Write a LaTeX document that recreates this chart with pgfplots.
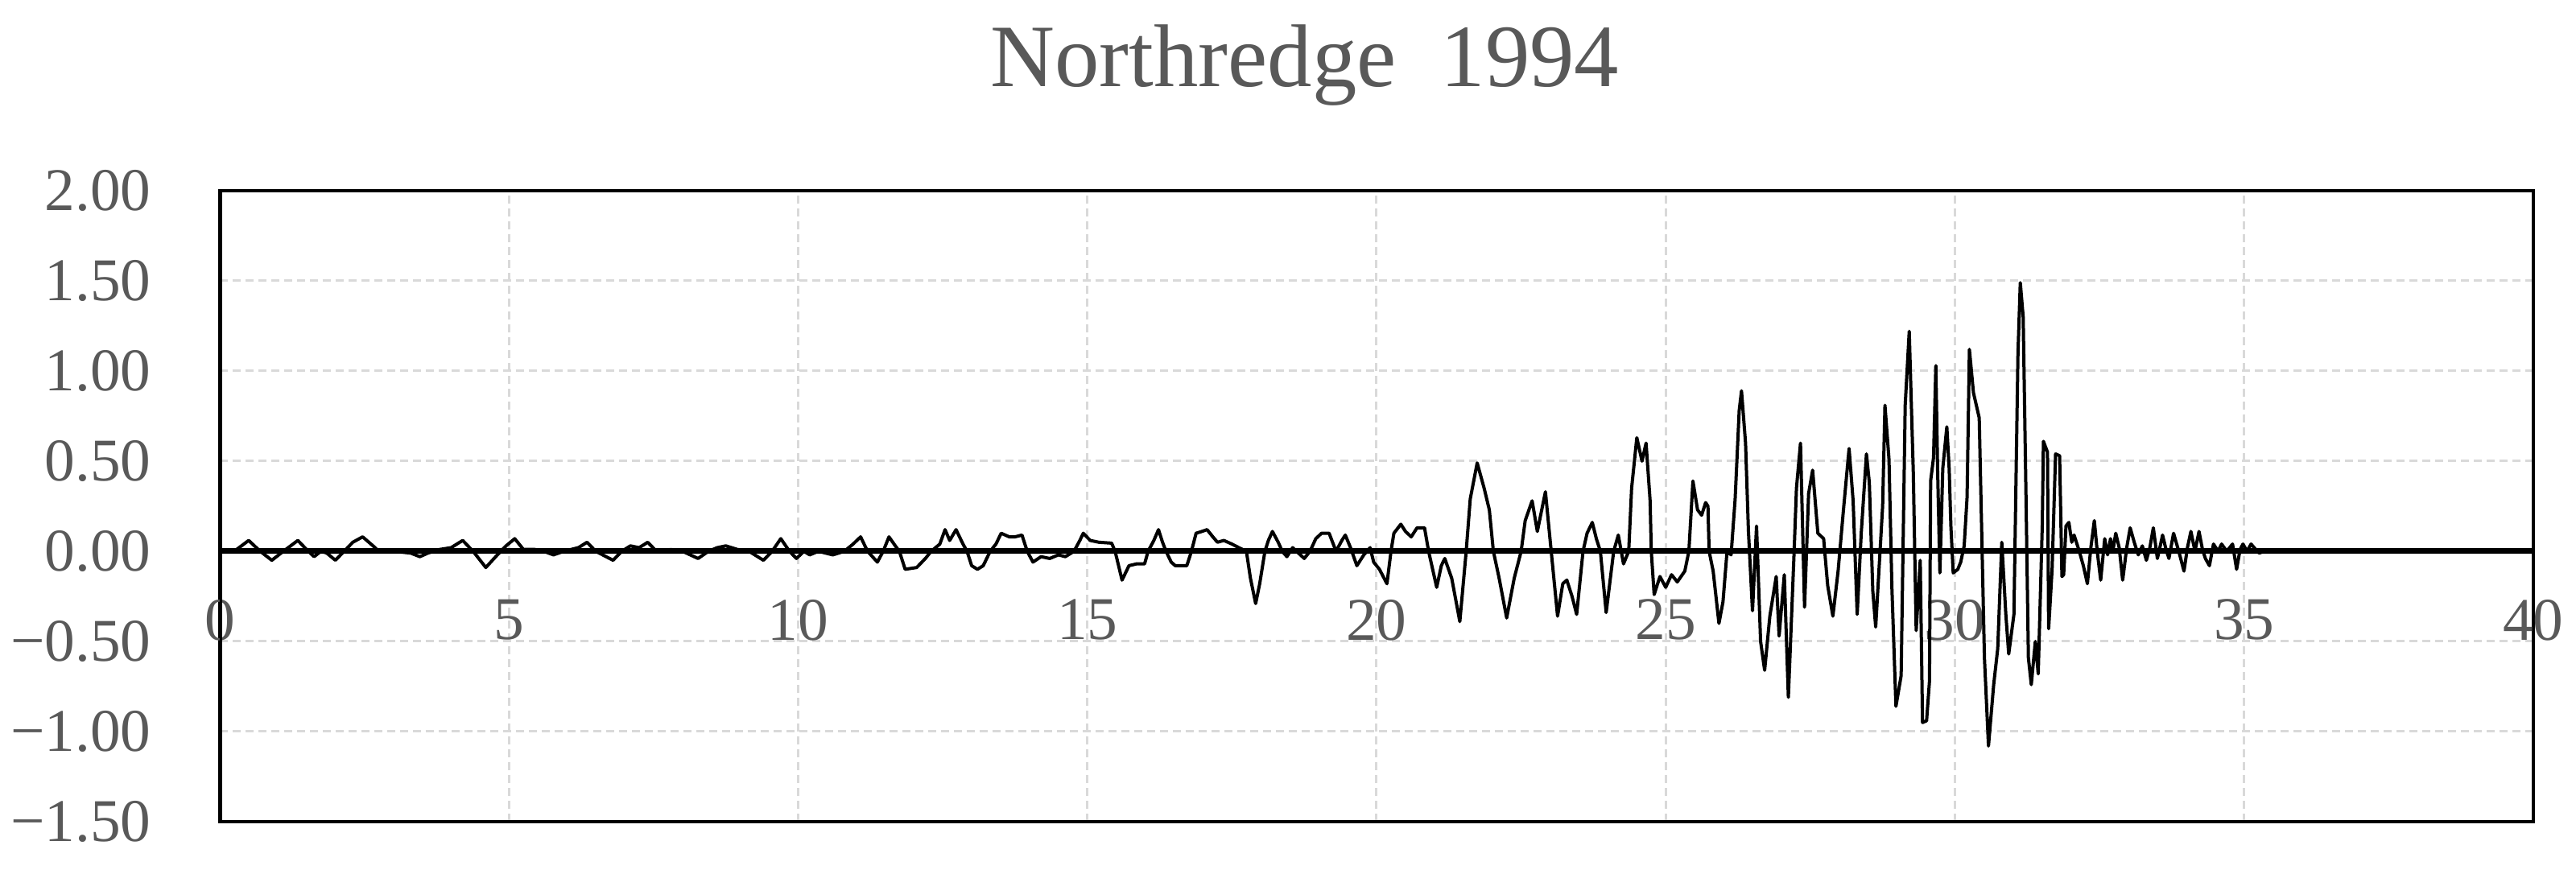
\documentclass[border=0pt]{standalone}
\usepackage{fontspec}
\setmainfont{Liberation Serif}
\usepackage{pgfplots}
\pgfplotsset{compat=1.18}
\definecolor{txtgray}{HTML}{595959}
\definecolor{gridgray}{HTML}{D9D9D9}

\begin{document}
\begin{tikzpicture}
\begin{axis}[
  at={(0pt,0pt)}, anchor=south west,
  scale only axis, width=431.1pt, height=117.6pt,
  xmin=0, xmax=40, ymin=-1.5, ymax=2,
  xtick={0,5,...,40}, xticklabels={0,5,10,15,20,25,30,35,40},
  ytick={-1.5,-1,-0.5,0,0.5,1,1.5,2},
  yticklabels={−1.50,−1.00,−0.50,0.00,0.50,1.00,1.50,2.00},
  major tick length=0pt,
  grid=major,
  major grid style={gridgray, line width=0.45pt, dash pattern=on 1.5pt off 0.9pt},
  axis line style={black, line width=0.6pt},
  tick label style={font=\fontsize{11.3}{13}\selectfont, text=txtgray, inner sep=0pt},
  xticklabel style={anchor=north, yshift=41.6pt},
  yticklabel style={anchor=east, xshift=-12.6pt},
  title={Northredge\ \ 1994},
  title style={at={(0.469,1)}, anchor=base, yshift=13.4pt,
    font=\fontsize{16.6}{20}\selectfont, text=txtgray},
]
% ground acceleration record
\addplot[black, line width=0.6pt, line join=round] coordinates {
(0,0) (0.25,0) (0.5,0.06) (0.7,0) (0.9,-0.05) (1.1,0) (1.35,0.06) (1.5,0.01)
(1.63,-0.03) (1.75,0) (1.85,-0.01) (2.0,-0.05) (2.15,0) (2.3,0.05) (2.47,0.08)
(2.65,0.03) (2.75,0) (3.0,0) (3.3,-0.01) (3.46,-0.03) (3.6,-0.01) (3.8,0.01)
(4.0,0.02) (4.2,0.06) (4.38,0) (4.6,-0.09) (4.8,-0.02) (4.95,0.03) (5.1,0.07)
(5.25,0.01) (5.45,0.01) (5.6,0) (5.77,-0.02) (5.95,0) (6.2,0.02) (6.35,0.05)
(6.5,0) (6.8,-0.05) (6.95,0) (7.1,0.03) (7.25,0.02) (7.4,0.05) (7.55,0)
(7.8,0.01) (8.0,0) (8.27,-0.04) (8.45,0) (8.6,0.02) (8.75,0.03) (8.95,0.01)
(9.15,0) (9.4,-0.05) (9.55,0) (9.7,0.07) (9.85,0) (9.97,-0.04) (10.1,0)
(10.2,-0.02) (10.35,0) (10.6,-0.02) (10.8,0) (10.95,0.04) (11.08,0.08) (11.2,0)
(11.37,-0.06) (11.47,0) (11.57,0.08) (11.68,0.03) (11.75,0) (11.85,-0.10)
(12.05,-0.09) (12.2,-0.04) (12.3,0) (12.45,0.04) (12.54,0.12) (12.62,0.06)
(12.73,0.12) (12.85,0.04) (12.92,0) (13.0,-0.08) (13.1,-0.10) (13.2,-0.08)
(13.32,0) (13.42,0.04) (13.51,0.10) (13.65,0.08) (13.75,0.08) (13.87,0.09)
(13.96,0) (14.06,-0.06) (14.2,-0.03) (14.35,-0.04) (14.5,-0.02) (14.62,-0.03)
(14.77,0) (14.87,0.06) (14.93,0.10) (15.05,0.06) (15.2,0.05) (15.42,0.045)
(15.48,0) (15.6,-0.16) (15.72,-0.08) (15.85,-0.07) (15.99,-0.07) (16.05,0)
(16.15,0.06) (16.23,0.12) (16.3,0.05) (16.36,0) (16.45,-0.06) (16.52,-0.08)
(16.72,-0.08) (16.8,0) (16.88,0.10) (16.98,0.11) (17.07,0.12) (17.17,0.08)
(17.25,0.05) (17.36,0.06) (17.5,0.04) (17.62,0.02) (17.75,0) (17.82,-0.15)
(17.91,-0.29) (17.98,-0.18) (18.07,0) (18.13,0.06) (18.2,0.11) (18.3,0.05)
(18.37,0) (18.45,-0.03) (18.55,0.02) (18.65,-0.01) (18.75,-0.04) (18.85,0)
(18.95,0.07) (19.05,0.10) (19.18,0.10) (19.3,0) (19.4,0.06) (19.46,0.09)
(19.55,0.02) (19.66,-0.08) (19.78,-0.02) (19.89,0.02) (19.95,-0.06)
(20.05,-0.10) (20.18,-0.18) (20.25,0) (20.3,0.10) (20.42,0.15) (20.5,0.11)
(20.6,0.08) (20.7,0.13) (20.83,0.13) (20.9,0) (21.04,-0.20) (21.12,-0.08)
(21.18,-0.04) (21.3,-0.15) (21.44,-0.39) (21.55,0) (21.62,0.29) (21.74,0.49)
(21.86,0.35) (21.95,0.23) (22.02,0) (22.12,-0.15) (22.25,-0.37) (22.38,-0.15)
(22.5,0) (22.57,0.17) (22.69,0.28) (22.78,0.11) (22.92,0.33) (23.02,0)
(23.13,-0.36) (23.22,-0.18) (23.29,-0.16) (23.38,-0.25) (23.46,-0.35)
(23.57,0) (23.64,0.10) (23.73,0.16) (23.8,0.07) (23.87,0) (23.97,-0.34)
(24.1,0) (24.18,0.09) (24.27,-0.07) (24.36,0) (24.41,0.35) (24.5,0.63)
(24.59,0.50) (24.66,0.60) (24.73,0.28) (24.75,0) (24.8,-0.24) (24.9,-0.14)
(25.0,-0.20) (25.1,-0.13) (25.2,-0.17) (25.33,-0.11) (25.4,0) (25.47,0.39)
(25.55,0.23) (25.62,0.20) (25.69,0.27) (25.73,0.25) (25.75,0) (25.82,-0.11)
(25.92,-0.40) (25.99,-0.28) (26.06,0) (26.13,-0.02) (26.2,0.29) (26.27,0.78)
(26.31,0.89) (26.38,0.60) (26.43,0.11) (26.5,-0.33) (26.57,0.14) (26.64,-0.50)
(26.71,-0.66) (26.8,-0.36) (26.91,-0.14) (26.96,-0.47) (27.05,-0.13)
(27.12,-0.81) (27.22,0) (27.26,0.35) (27.33,0.60) (27.4,-0.31) (27.47,0.32)
(27.54,0.45) (27.63,0.10) (27.73,0.07) (27.8,-0.19) (27.89,-0.36)
(27.98,-0.11) (28.07,0.22) (28.17,0.57) (28.24,0.28) (28.31,-0.35)
(28.38,0.10) (28.47,0.54) (28.52,0.38) (28.58,-0.22) (28.63,-0.42)
(28.75,0.25) (28.79,0.81) (28.86,0.51) (28.91,-0.20) (28.98,-0.86)
(29.07,-0.69) (29.14,0.81) (29.21,1.22) (29.28,0.44) (29.33,-0.44)
(29.4,-0.05) (29.44,-0.95) (29.51,-0.94) (29.56,-0.72) (29.58,0.39)
(29.63,0.52) (29.67,1.03) (29.7,0.46) (29.74,-0.12) (29.79,0.46) (29.86,0.69)
(29.9,0.46) (29.93,0.14) (29.97,-0.12) (30.05,-0.10) (30.1,-0.06) (30.16,0.03)
(30.21,0.30) (30.25,1.12) (30.32,0.88) (30.42,0.74) (30.46,0.15) (30.51,-0.59)
(30.58,-1.08) (30.67,-0.74) (30.74,-0.54) (30.81,0.05) (30.88,-0.35)
(30.93,-0.57) (31.02,-0.35) (31.09,1.10) (31.13,1.49) (31.18,1.30)
(31.23,0.28) (31.27,-0.59) (31.32,-0.74) (31.39,-0.50) (31.44,-0.68)
(31.51,0.14) (31.53,0.61) (31.6,0.55) (31.62,-0.43) (31.68,-0.10)
(31.74,0.54) (31.81,0.53) (31.85,-0.14) (31.88,-0.13) (31.92,0.14)
(31.97,0.16) (32.02,0.05) (32.06,0.09) (32.15,0) (32.22,-0.08) (32.29,-0.18)
(32.35,0.02) (32.41,0.17) (32.46,0) (32.52,-0.16) (32.59,0.07) (32.64,-0.02)
(32.69,0.07) (32.73,0) (32.78,0.10) (32.84,0.02) (32.9,-0.16) (32.97,0.02)
(33.03,0.13) (33.1,0.05) (33.17,-0.02) (33.24,0.03) (33.31,-0.05)
(33.37,0.02) (33.43,0.13) (33.5,-0.04) (33.55,0.03) (33.59,0.09)
(33.65,0.01) (33.7,-0.04) (33.78,0.10) (33.87,0) (33.96,-0.11) (34.02,0.02)
(34.08,0.11) (34.15,0) (34.22,0.11) (34.28,0.01) (34.33,-0.04) (34.4,-0.08)
(34.47,0.04) (34.55,0) (34.61,0.04) (34.7,0) (34.8,0.04) (34.87,-0.10)
(34.93,0.01) (34.98,0.04) (35.05,0) (35.12,0.04) (35.2,0.01) (35.26,-0.01)
(35.35,0)
};
% zero line
\addplot[black, line width=1.05pt] coordinates {(0,0) (40,0)};
\draw[black, line width=1.05pt] (rel axis cs:0,0) -- (rel axis cs:0,1);
\end{axis}
\pgfresetboundingbox
\path (-40.95pt,-9.75pt) rectangle (439.05pt,153.15pt);
\end{tikzpicture}
\end{document}
